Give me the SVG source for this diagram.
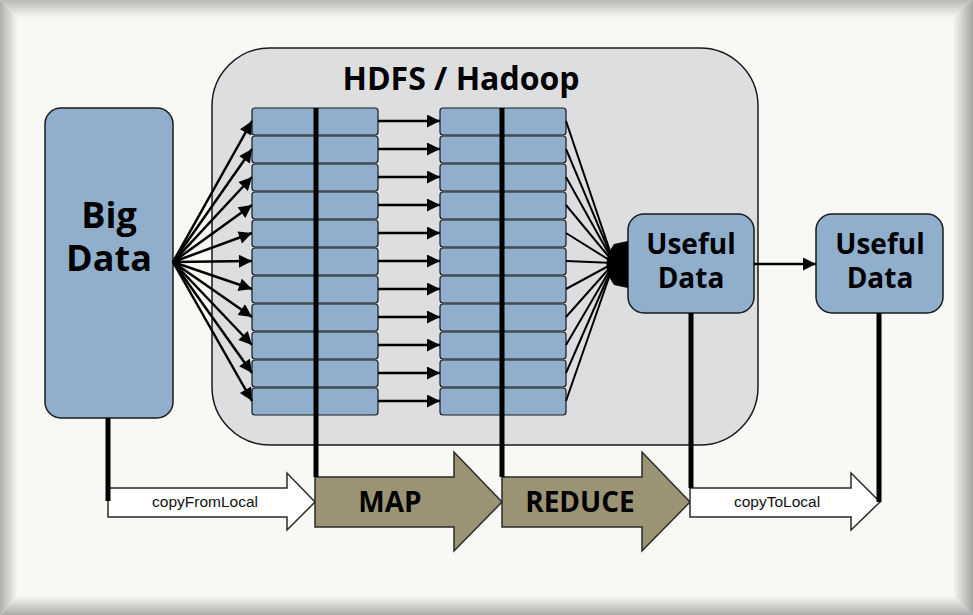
<svg xmlns="http://www.w3.org/2000/svg" width="973" height="615" viewBox="0 0 973 615">
<style>
.box{fill:#8fafcc;stroke:#1a1a1a;stroke-width:1.5}
.cell{fill:#8fafcc;stroke:#1a1a1a;stroke-width:1.2}
.big{font-family:"Open Sans","DejaVu Sans",sans-serif;font-weight:bold;fill:#000;text-anchor:middle}
.small{font-family:"Liberation Sans",Arial,sans-serif;font-size:15.5px;fill:#111;text-anchor:middle}
.thick{stroke:#000;stroke-width:5;fill:none}
.fan{stroke:#000;stroke-width:2.5;fill:none}
.conv{stroke:#000;stroke-width:2;fill:none}
.olive{fill:#9b9474;stroke:#2a2a2a;stroke-width:1.5}
.white{fill:#fff;stroke:#2a2a2a;stroke-width:1.5}
</style>
<defs>
<marker id="ah" viewBox="0 0 10 10" refX="10" refY="5" markerWidth="17" markerHeight="13" markerUnits="userSpaceOnUse" orient="auto">
<path d="M0,0 L10,5 L0,10 Z" fill="#000"/>
</marker>
<linearGradient id="gT" x1="0" y1="0" x2="0" y2="1"><stop offset="0" stop-color="#b8b8b6"/><stop offset="1" stop-color="#f8f8f4"/></linearGradient>
<linearGradient id="gB" x1="0" y1="1" x2="0" y2="0"><stop offset="0" stop-color="#aaaaa8"/><stop offset="1" stop-color="#f8f8f4"/></linearGradient>
<linearGradient id="gL" x1="0" y1="0" x2="1" y2="0"><stop offset="0" stop-color="#b0b0ae"/><stop offset="1" stop-color="#f8f8f4"/></linearGradient>
<linearGradient id="gR" x1="1" y1="0" x2="0" y2="0"><stop offset="0" stop-color="#a4a4a2"/><stop offset="1" stop-color="#f8f8f4"/></linearGradient>
</defs>

<g id="frame">
<rect x="0" y="0" width="973" height="615" fill="#f8f8f4"/>
<polygon points="0,0 973,0 955,18 18,18" fill="url(#gT)"/>
<polygon points="0,615 973,615 953,596 18,596" fill="url(#gB)"/>
<polygon points="0,0 18,18 18,596 0,615" fill="url(#gL)"/>
<polygon points="973,0 973,615 953,596 953,18" fill="url(#gR)"/>
</g>

<g id="hdfs">
<rect x="212" y="48" width="546" height="397" rx="58" fill="#dcdee0" stroke="#1a1a1a" stroke-width="1.5"/>
<text class="big" x="461" y="90" font-size="32">HDFS / Hadoop</text>
</g>

<g id="bigdata">
<rect class="box" x="45" y="108" width="128" height="310" rx="16"/>
<text class="big" font-size="36"><tspan x="109" y="228">Big</tspan><tspan x="109" y="271">Data</tspan></text>
</g>

<g id="map-column">
<rect class="cell" x="252" y="108" width="126" height="27" rx="3"/>
<rect class="cell" x="252" y="136" width="126" height="27" rx="3"/>
<rect class="cell" x="252" y="164" width="126" height="27" rx="3"/>
<rect class="cell" x="252" y="192" width="126" height="27" rx="3"/>
<rect class="cell" x="252" y="220" width="126" height="27" rx="3"/>
<rect class="cell" x="252" y="248" width="126" height="27" rx="3"/>
<rect class="cell" x="252" y="276" width="126" height="27" rx="3"/>
<rect class="cell" x="252" y="304" width="126" height="27" rx="3"/>
<rect class="cell" x="252" y="332" width="126" height="27" rx="3"/>
<rect class="cell" x="252" y="360" width="126" height="27" rx="3"/>
<rect class="cell" x="252" y="388" width="126" height="27" rx="3"/>
</g>

<g id="reduce-column">
<rect class="cell" x="440" y="108" width="126" height="27" rx="3"/>
<rect class="cell" x="440" y="136" width="126" height="27" rx="3"/>
<rect class="cell" x="440" y="164" width="126" height="27" rx="3"/>
<rect class="cell" x="440" y="192" width="126" height="27" rx="3"/>
<rect class="cell" x="440" y="220" width="126" height="27" rx="3"/>
<rect class="cell" x="440" y="248" width="126" height="27" rx="3"/>
<rect class="cell" x="440" y="276" width="126" height="27" rx="3"/>
<rect class="cell" x="440" y="304" width="126" height="27" rx="3"/>
<rect class="cell" x="440" y="332" width="126" height="27" rx="3"/>
<rect class="cell" x="440" y="360" width="126" height="27" rx="3"/>
<rect class="cell" x="440" y="388" width="126" height="27" rx="3"/>
</g>

<g id="useful1">
<rect class="box" x="628" y="214" width="126" height="99" rx="16"/>
<text class="big" font-size="28"><tspan x="691" y="254">Useful</tspan><tspan x="691" y="288">Data</tspan></text>
</g>

<g id="useful2">
<rect class="box" x="816" y="214" width="127" height="99" rx="16"/>
<text class="big" font-size="28"><tspan x="880" y="254">Useful</tspan><tspan x="880" y="288">Data</tspan></text>
</g>

<g id="copyFromLocal">
<path class="white" d="M108,488 L287,488 L287,473 L315,502 L287,530 L287,517 L108,517 Z"/>
<text class="small" x="205" y="507">copyFromLocal</text>
</g>

<g id="map">
<path class="olive" d="M315,477 L454,477 L454,452 L502,502 L454,551 L454,527 L315,527 Z"/>
<text class="big" x="390" y="512" font-size="28">MAP</text>
</g>

<g id="reduce">
<path class="olive" d="M502,477 L642,477 L642,452 L690,502 L642,551 L642,527 L502,527 Z"/>
<text class="big" x="580" y="512" font-size="28">REDUCE</text>
</g>

<g id="copyToLocal">
<path class="white" d="M690,488 L851,488 L851,473 L880,502 L851,530 L851,517 L690,517 Z"/>
<text class="small" x="777" y="507">copyToLocal</text>
</g>

<g id="connectors">
<g class="fan" marker-end="url(#ah)">
<line x1="173" y1="262" x2="252" y2="121"/>
<line x1="173" y1="262" x2="252" y2="149"/>
<line x1="173" y1="262" x2="252" y2="177"/>
<line x1="173" y1="262" x2="252" y2="205"/>
<line x1="173" y1="262" x2="252" y2="233"/>
<line x1="173" y1="262" x2="252" y2="261"/>
<line x1="173" y1="262" x2="252" y2="289"/>
<line x1="173" y1="262" x2="252" y2="317"/>
<line x1="173" y1="262" x2="252" y2="345"/>
<line x1="173" y1="262" x2="252" y2="373"/>
<line x1="173" y1="262" x2="252" y2="401"/>
</g>
<g class="fan" marker-end="url(#ah)">
<line x1="378" y1="121" x2="440" y2="121"/>
<line x1="378" y1="149" x2="440" y2="149"/>
<line x1="378" y1="177" x2="440" y2="177"/>
<line x1="378" y1="205" x2="440" y2="205"/>
<line x1="378" y1="233" x2="440" y2="233"/>
<line x1="378" y1="261" x2="440" y2="261"/>
<line x1="378" y1="289" x2="440" y2="289"/>
<line x1="378" y1="317" x2="440" y2="317"/>
<line x1="378" y1="345" x2="440" y2="345"/>
<line x1="378" y1="373" x2="440" y2="373"/>
<line x1="378" y1="401" x2="440" y2="401"/>
</g>
<g class="conv">
<line x1="566" y1="121" x2="614" y2="263"/>
<line x1="566" y1="149" x2="614" y2="263"/>
<line x1="566" y1="177" x2="614" y2="263"/>
<line x1="566" y1="205" x2="614" y2="263"/>
<line x1="566" y1="233" x2="614" y2="263"/>
<line x1="566" y1="261" x2="614" y2="263"/>
<line x1="566" y1="289" x2="614" y2="263"/>
<line x1="566" y1="317" x2="614" y2="263"/>
<line x1="566" y1="345" x2="614" y2="263"/>
<line x1="566" y1="373" x2="614" y2="263"/>
<line x1="566" y1="401" x2="614" y2="263"/>
</g>
<path d="M628,241 L614,244 Q599,264 614,285 L628,288 Z" fill="#000"/>
<line class="fan" x1="754" y1="264" x2="816" y2="264" marker-end="url(#ah)"/>
<line class="thick" x1="316" y1="108" x2="316" y2="477"/>
<line class="thick" x1="502" y1="108" x2="502" y2="477"/>
<line class="thick" x1="108" y1="418" x2="108" y2="501"/>
<line class="thick" x1="691" y1="313" x2="691" y2="488"/>
<line class="thick" x1="879" y1="313" x2="879" y2="502"/>
</g>
</svg>
